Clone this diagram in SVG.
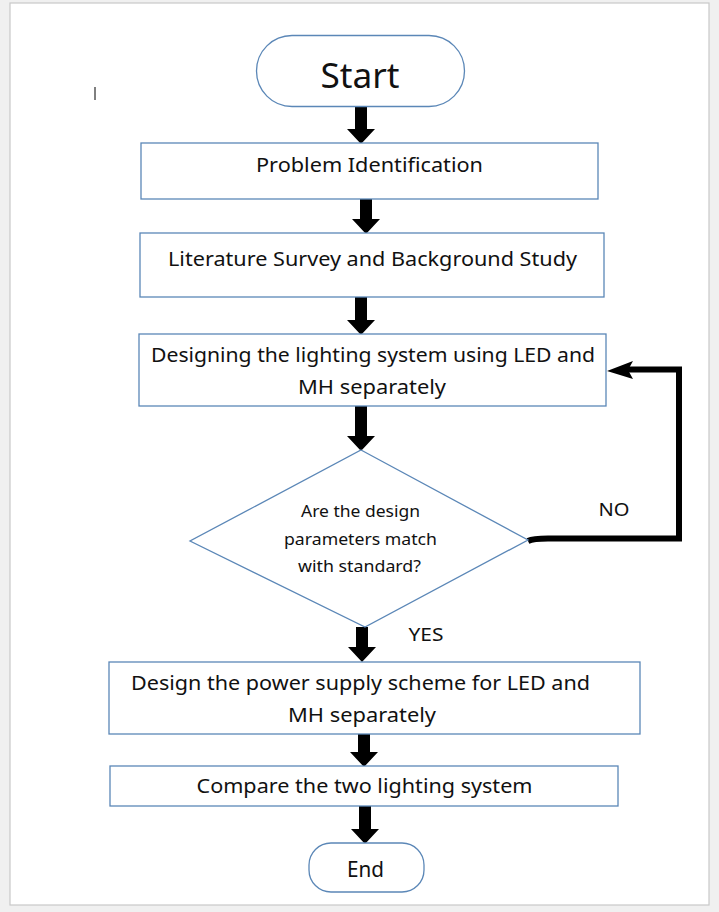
<svg xmlns="http://www.w3.org/2000/svg" width="719" height="912" viewBox="0 0 719 912">
  <style>
    .shape { fill: #ffffff; stroke: #5b87b7; stroke-width: 1.3; }
    .t { font-family: "Noto Sans", "Open Sans", "Liberation Sans", sans-serif; fill: #111111; text-anchor: middle; }
    .arrow { fill: #000000; }
    .loop { fill: none; stroke: #000000; stroke-width: 6; stroke-linejoin: miter; }
  </style>

  <!-- page -->
  <rect x="0" y="0" width="719" height="912" fill="#f0f0f0"/>
  <rect x="10" y="3" width="699" height="902" fill="#ffffff" stroke="#c9c9c9" stroke-width="1.2"/>
  <line x1="95" y1="87" x2="95" y2="100" stroke="#000000" stroke-width="1"/>

  <!-- connectors -->
  <g id="connectors">
    <path class="arrow" d="M355,106 H367 V129 H375 L361,144 L347,129 H355 Z"/>
    <path class="arrow" d="M360,199 H372 V219 H380 L366,234 L352,219 H360 Z"/>
    <path class="arrow" d="M355,297 H367 V320 H375 L361,335 L347,320 H355 Z"/>
    <path class="arrow" d="M355,406 H367 V436 H375 L361,451 L347,436 H355 Z"/>
    <path class="arrow" d="M356,627 H368 V647 H376 L362,662 L348,647 H356 Z"/>
    <path class="arrow" d="M358,734 H370 V752 H378 L364,767 L350,752 H358 Z"/>
    <path class="arrow" d="M359,806 H371 V829 H379 L365,844 L351,829 H359 Z"/>
    <!-- NO loop back to the design step -->
    <path class="loop" d="M528,541 Q533,538.5 548,538.5 L679,538.5 L679,369.5 L628,369.5"/>
    <path class="arrow" d="M607,371 L633,361 L628,370 L633,379 Z"/>
    <text class="t" x="614" y="516" font-size="18" textLength="31" lengthAdjust="spacingAndGlyphs">NO</text>
    <text class="t" x="426" y="641" font-size="18" textLength="35" lengthAdjust="spacingAndGlyphs">YES</text>
  </g>

  <g id="start">
    <rect class="shape" x="256.5" y="35.5" width="208" height="71" rx="35.5"/>
    <text class="t" x="360" y="88" font-size="34" textLength="79" lengthAdjust="spacingAndGlyphs">Start</text>
  </g>

  <g id="problem">
    <rect class="shape" x="141" y="143" width="457" height="56"/>
    <text class="t" x="369.5" y="172" font-size="20" textLength="227" lengthAdjust="spacingAndGlyphs">Problem Identification</text>
  </g>

  <g id="survey">
    <rect class="shape" x="140" y="233" width="464" height="64"/>
    <text class="t" x="372.5" y="266" font-size="20" textLength="409" lengthAdjust="spacingAndGlyphs">Literature Survey and Background Study</text>
  </g>

  <g id="design-lighting">
    <rect class="shape" x="139" y="334" width="467" height="72"/>
    <text class="t" x="373" y="362" font-size="20" textLength="444" lengthAdjust="spacingAndGlyphs">Designing the lighting system using LED and</text>
    <text class="t" x="372" y="394" font-size="20" textLength="148" lengthAdjust="spacingAndGlyphs">MH separately</text>
  </g>

  <g id="check">
    <polygon class="shape" points="361,450 528,540 365,627 190,541"/>
    <text class="t" x="360.5" y="517" font-size="15.5" textLength="119" lengthAdjust="spacingAndGlyphs">Are the design</text>
    <text class="t" x="360.5" y="545" font-size="15.5" textLength="153" lengthAdjust="spacingAndGlyphs">parameters match</text>
    <text class="t" x="359.5" y="572" font-size="15.5" textLength="123" lengthAdjust="spacingAndGlyphs">with standard?</text>
  </g>

  <g id="power">
    <rect class="shape" x="109" y="662" width="531" height="72"/>
    <text class="t" x="360.5" y="690" font-size="20" textLength="459" lengthAdjust="spacingAndGlyphs">Design the power supply scheme for LED and</text>
    <text class="t" x="362" y="722" font-size="20" textLength="148" lengthAdjust="spacingAndGlyphs">MH separately</text>
  </g>

  <g id="compare">
    <rect class="shape" x="110" y="766" width="508" height="40"/>
    <text class="t" x="364.5" y="793" font-size="20" textLength="336" lengthAdjust="spacingAndGlyphs">Compare the two lighting system</text>
  </g>

  <g id="end">
    <rect class="shape" x="309" y="843" width="115" height="49" rx="22"/>
    <text class="t" x="365.5" y="877" font-size="21" textLength="37" lengthAdjust="spacingAndGlyphs">End</text>
  </g>
</svg>
